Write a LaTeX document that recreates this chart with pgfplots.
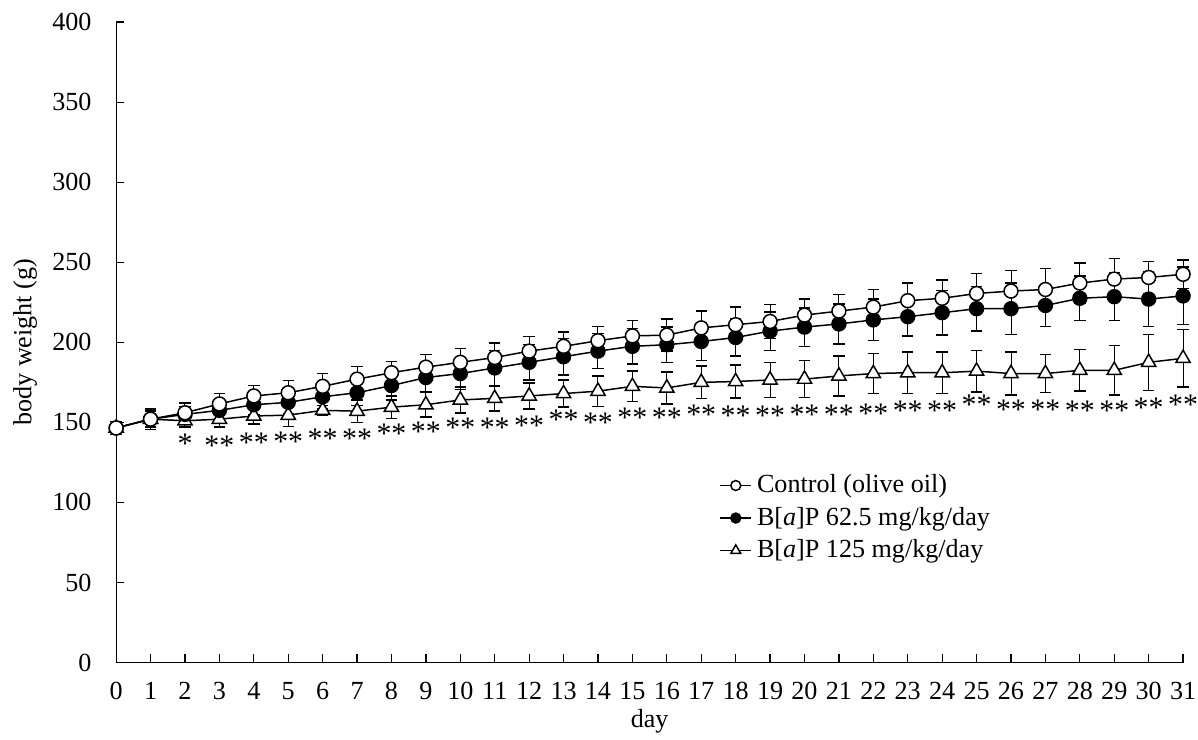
\documentclass[border=0pt]{standalone}
\usepackage{fontspec}
\setmainfont{Liberation Serif}
\usepackage{pgfplots}
\pgfplotsset{compat=1.18}

% body weight: day, mean, SD
\pgfplotstableread{
d m e
0 146.5 4
1 152 6.5
2 156 6
3 161.5 6.5
4 166.5 6.5
5 168.5 7.5
6 172.5 8
7 177 8
8 181 7
9 184.5 8
10 187.5 8.5
11 190.5 9
12 194.5 9
13 197.5 9
14 201 9
15 204 9.5
16 204.5 10
17 209 10.5
18 211 11
19 213 10.5
20 217 10
21 219.5 10.5
22 222 11
23 226 11
24 227.5 11.5
25 230.5 12.5
26 232 13
27 233 13
28 237 12.5
29 239.5 13
30 240.5 10
31 242.5 9
}\control
\pgfplotstableread{
d m e
0 146.5 4
1 152 5
2 155 5
3 157.5 6
4 161 6.5
5 162.5 7
6 166 7.5
7 168.5 8
8 173 9
9 178 9
10 180.5 10
11 184 11
12 187.5 11
13 191 11.5
14 194.5 11
15 197.5 11
16 198.5 11
17 200.5 12
18 203 11.5
19 207 12
20 209.5 12
21 211.5 12.5
22 214 13
23 216 12
24 218.5 14
25 221 14
26 221 16
27 223 13
28 227.5 14
29 228.5 15
30 227 17
31 229 18
}\low
\pgfplotstableread{
d m e
0 146.5 4
1 152 5
2 151 4
3 152 5
4 154 5
5 154.5 7
6 157.5 3
7 157 7
8 159.5 7
9 161 7.5
10 164 8
11 165 7.8
12 166.5 8
13 168 8.5
14 169.5 9.5
15 172.5 9.5
16 171.5 10
17 175 10.2
18 175.5 10.2
19 176.5 11
20 177 11.5
21 179 12.5
22 180.5 12.5
23 181 13
24 181 13
25 182 13
26 180.5 13.5
27 180.5 12
28 182.5 13
29 182.5 15.5
30 187.5 17.5
31 190 18
}\high

\begin{document}
\begin{tikzpicture}
\begin{axis}[
  scale only axis, width=429pt, height=257.5pt,
  xmin=0, xmax=31, ymin=0, ymax=400,
  xtick={0,...,31}, ytick={0,50,...,400},
  axis lines=left, axis line style={-, line width=0.5pt},
  tick align=inside, major tick length=3.3pt,
  tick style={black, line width=0.5pt},
  /pgf/number format/assume math mode=true,
  tick label style={font=\fontsize{10.5}{12}\selectfont},
  xticklabel style={yshift=-4.5pt},
  yticklabel style={xshift=-6.4pt},
  label style={font=\fontsize{10.5}{12}\selectfont},
  xlabel={day}, ylabel={body weight (g)},
  xlabel style={at={(axis description cs:0.5,-0.068)}, anchor=north, inner sep=1pt},
  ylabel style={at={(axis description cs:-0.066,0.5)}, anchor=south},
  clip=false,
  legend style={draw=none, fill=none, at={(0.565,0.302)}, anchor=north west,
    font=\fontsize{10.5}{12}\selectfont, row sep=0.3pt, inner sep=0pt},
  legend cell align=left,
  legend image code/.code={
    \draw[mark repeat=2, mark phase=2] plot coordinates {(0cm,0cm) (0.22cm,0cm) (0.44cm,0cm)};},
  every axis plot/.append style={black, line width=0.6pt},
]
\addplot[forget plot, mark=triangle*, mark options={fill=white, mark size=3.3pt},
  error bars/.cd, y dir=both, y explicit,
  error mark options={rotate=90, mark size=2.3pt, line width=0.6pt}]
  table[x=d, y=m, y error=e] {\high};
\addplot[forget plot, mark=*, mark options={fill=black, mark size=2.8pt},
  error bars/.cd, y dir=both, y explicit,
  error mark options={rotate=90, mark size=2.3pt, line width=0.6pt}]
  table[x=d, y=m, y error=e] {\low};
\addplot[forget plot, mark=*, mark options={fill=white, mark size=2.8pt},
  error bars/.cd, y dir=both, y explicit,
  error mark options={rotate=90, mark size=2.3pt, line width=0.6pt}]
  table[x=d, y=m, y error=e] {\control};
\addlegendimage{mark=*, mark options={fill=white, mark size=2pt}, black, line width=0.6pt}
\addlegendentry{Control (olive oil)}
\addlegendimage{mark=*, mark options={fill=black, mark size=2pt}, black, line width=0.6pt}
\addlegendentry{B[\textit{a}]P 62.5 mg/kg/day}
\addlegendimage{mark=triangle*, mark options={fill=white, mark size=2.3pt}, black, line width=0.6pt}
\addlegendentry{B[\textit{a}]P 125 mg/kg/day}
% significance marks
\pgfplotsforeachungrouped \d/\y in {3/135.5,4/137,5/138,6/140,7/140,8/143,9/144,10/146.5,11/146.5,12/148,13/151.5,14/150,15/153,16/153,17/154.5,18/154,19/154,20/155,21/155,22/155.5,23/157.5,24/157,25/161,26/158,27/158,28/157,29/157,30/159,31/161}{
  \edef\tmp{\noexpand\node[font=\noexpand\fontsize{12}{12}\noexpand\selectfont, inner sep=0pt] at (axis cs:\d,\y) {**};}
  \tmp
}
\node[font=\fontsize{12}{12}\selectfont, inner sep=0pt] at (axis cs:2,136.5) {*};
\end{axis}
\pgfresetboundingbox
\path[use as bounding box] ([shift={(-46.7pt,-31pt)}]current axis.south west) rectangle ([shift={(6pt,8.9pt)}]current axis.north east);
\end{tikzpicture}
\end{document}
